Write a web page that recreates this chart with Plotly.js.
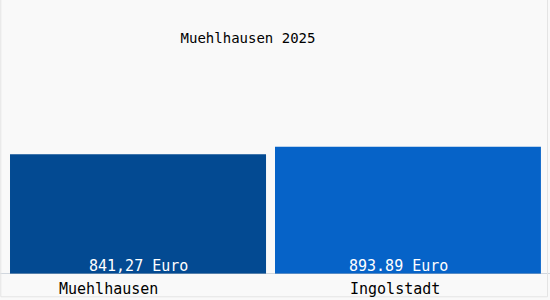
<!DOCTYPE html>
<html><head><meta charset="utf-8">
<script src="https://cdn.plot.ly/plotly-3.0.1.min.js"></script>
<style>html,body{margin:0;padding:0;background:#f9f9f9;}</style>
</head><body><div id="chart" style="width:550px;height:300px;"></div>
<script>
const categories = ['Muehlhausen', 'Ingolstadt'];
const values = [841.27, 893.89];
const valueLabels = ['841,27 Euro', '893.89 Euro'];
const titleText = 'Muehlhausen 2025';

const colors = ['rgb(3,74,146)', 'rgb(6,99,200)'];
const FONT = '"DejaVu Sans Mono", monospace';

const trace = {
  type: 'bar', x: categories, y: values,
  marker: {color: colors, line: {width: 0}},
  width: [0.931, 0.967], offset: [-0.4636, -0.5],
  hoverinfo: 'none'
};

const valueShift = [1, -14];
const labelShift = [-29, -18];
const annotations = [];
categories.forEach((c, i) => {
  annotations.push({x: c, y: 0, xref: 'x', yref: 'y', text: valueLabels[i], showarrow: false,
    yanchor: 'bottom', xanchor: 'center', xshift: valueShift[i], yshift: -3,
    font: {family: FONT, size: 15, color: '#ffffff'}});
  annotations.push({x: c, y: 0, xref: 'x', yref: 'paper', text: c, showarrow: false,
    yanchor: 'top', xanchor: 'center', xshift: labelShift[i], yshift: -4,
    font: {family: FONT, size: 15, color: '#000000'}});
});

const layout = {
  width: 550, height: 300,
  margin: {l: 0, r: 0, t: 0, b: 26, pad: 0},
  paper_bgcolor: '#f9f9f9', plot_bgcolor: '#f9f9f9',
  showlegend: false,
  title: {text: titleText, x: 248/550, xref: 'paper', xanchor: 'center', y: 1 - 38/300, yref: 'container', yanchor: 'middle',
    font: {family: FONT, size: 14, color: '#000000'}},
  xaxis: {type: 'category', range: [-0.5, 1.5], showticklabels: false, showgrid: false, zeroline: false, showline: false, ticks: ''},
  yaxis: {range: [0, 1925], showticklabels: false, showgrid: false, zeroline: false, showline: false, ticks: ''},
  annotations: annotations,
  shapes: [
    {type: 'line', xref: 'paper', yref: 'y', x0: 0, x1: 1, y0: 0, y1: 0, line: {color: '#a9b4c2', width: 1}},
    {type: 'rect', xref: 'paper', yref: 'paper', x0: 0.0015, x1: 0.9955, y0: -0.0833, y1: 1.08, line: {color: '#e4e4e4', width: 1}}
  ]
};

Plotly.newPlot('chart', [trace], layout, {displayModeBar: false, staticPlot: true});
</script></body></html>
